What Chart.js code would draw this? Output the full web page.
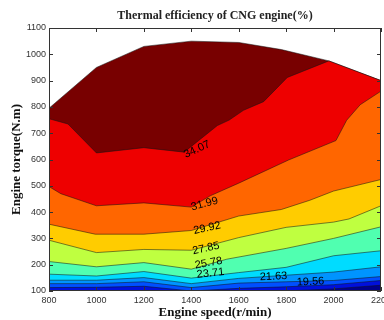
<!DOCTYPE html>
<html lang="en">
<head>
<meta charset="utf-8">
<title>Thermal efficiency of CNG engine</title>
<script src="https://cdn.jsdelivr.net/npm/chart.js@4"></script>
<style>
  html, body { margin: 0; padding: 0; background: #fff; }
</style>
</head>
<body>
<canvas id="contourChart" width="384" height="320"></canvas>
<script>
// contour boundaries as [engine speed r/min, torque N.m]
var maxTorque = [[800, 795], [1000, 950], [1200, 1030], [1400, 1050], [1600, 1045], [1780, 1018], [1980, 975], [2200, 900]];
var eff3407 = [[800, 755], [880, 735], [1000, 625], [1200, 645], [1370, 628], [1510, 729], [1560, 750], [1620, 787], [1705, 820], [1805, 912], [1980, 975], [2200, 900]];
var eff3199 = [[800, 497], [850, 470], [1000, 424], [1200, 435], [1400, 419], [1480, 462], [1600, 510], [1810, 598], [2010, 672], [2055, 749], [2112, 808], [2200, 860]];
var eff2992 = [[800, 354], [995, 316], [1200, 316], [1400, 330], [1600, 385], [1780, 410], [1900, 445], [2000, 480], [2200, 524]];
var eff2785 = [[800, 293], [1000, 246], [1200, 258], [1400, 255], [1600, 303], [1800, 342], [2000, 362], [2065, 374], [2200, 424]];
var eff2578 = [[800, 212], [1000, 192], [1200, 208], [1400, 183], [1550, 221], [1800, 262], [2000, 300], [2200, 344]];
var eff2371 = [[800, 164], [1000, 157], [1200, 174], [1400, 149], [1600, 170], [1800, 190], [2000, 234], [2200, 253]];
var eff2163 = [[800, 141], [1000, 141], [1200, 151], [1400, 128], [1600, 148], [1800, 160], [2000, 172], [2200, 192]];
var eff1956 = [[800, 128], [1000, 128], [1200, 135], [1400, 113], [1600, 130], [1800, 135], [2000, 140], [2200, 155]];
var eff1749 = [[800, 113], [1000, 114], [1200, 118], [1400, 100], [1600, 110], [1800, 116], [2000, 124], [2200, 140]];
var eff1542 = [[1740, 98], [2000, 108], [2200, 122]];

// lowest boundary first, band colour = colour just below each boundary
var boundaries = [eff1542, eff1749, eff1956, eff2163, eff2371, eff2578, eff2785, eff2992, eff3199, eff3407, maxTorque];
var bandColors = ['#00008c', '#0010dc', '#0050ff', '#0094ff', '#00dcff', '#50ffb0', '#bfff40', '#ffcc00', '#ff6600', '#ee0000', '#780000'];

// contour labels: text, speed, torque, angle (deg)
var labelText = ['34.07', '31.99', '29.92', '27.85', '25.78', '23.71', '21.63', '19.56'];
var labelSpeed = [1424, 1456, 1467, 1462, 1473, 1481, 1747, 1903];
var labelTorque = [638, 431, 339, 262, 206, 167, 155, 135];
var labelAngle = [-25, -15, -12, -12, -10, -6, -3, -3];

var datasets = boundaries.map(function (pts, i) {
    return {
        data: pts,
        fill: 'start',
        backgroundColor: bandColors[i],
        borderColor: 'rgba(20,20,20,0.75)',
        borderWidth: 0.7,
        pointRadius: 0,
        tension: 0
    };
});

var extras = {
    id: 'extras',
    afterDatasetsDraw: function (chart) {
        var ctx = chart.ctx, xs = chart.scales.x, ys = chart.scales.y;
        ctx.save();
        ctx.font = '11px "Liberation Sans", Arial, sans-serif';
        ctx.fillStyle = '#000';
        ctx.textAlign = 'center';
        ctx.textBaseline = 'middle';
        for (var i = 0; i < labelText.length; i++) {
            ctx.save();
            ctx.translate(xs.getPixelForValue(labelSpeed[i]), ys.getPixelForValue(labelTorque[i]));
            ctx.rotate(labelAngle[i] * Math.PI / 180);
            ctx.fillText(labelText[i], 0, 0);
            ctx.restore();
        }
        ctx.restore();
    },
    afterDraw: function (chart) {
        var ctx = chart.ctx, a = chart.chartArea, xs = chart.scales.x, ys = chart.scales.y;
        ctx.save();
        ctx.strokeStyle = '#333';
        ctx.lineWidth = 1;
        ctx.strokeRect(a.left + 0.5, a.top + 0.5, a.right - a.left - 1, a.bottom - a.top - 1);
        ctx.beginPath();
        xs.ticks.forEach(function (t) {
            var px = Math.round(xs.getPixelForValue(t.value)) + 0.5;
            ctx.moveTo(px, a.bottom); ctx.lineTo(px, a.bottom - 4);
            ctx.moveTo(px, a.top); ctx.lineTo(px, a.top + 4);
        });
        ys.ticks.forEach(function (t) {
            var py = Math.round(ys.getPixelForValue(t.value)) + 0.5;
            ctx.moveTo(a.left, py); ctx.lineTo(a.left + 4, py);
            ctx.moveTo(a.right, py); ctx.lineTo(a.right - 4, py);
        });
        ctx.stroke();
        // title over the plot area
        ctx.font = 'bold 12px "Liberation Serif", "Times New Roman", serif';
        ctx.fillStyle = '#222';
        ctx.textAlign = 'center';
        ctx.textBaseline = 'middle';
        ctx.fillText('Thermal efficiency of CNG engine(%)', (a.left + a.right) / 2, 16);
        ctx.restore();
    }
};

function plainNumber(v) { return String(v); }

var chart = new Chart(document.getElementById('contourChart'), {
    type: 'line',
    data: { datasets: datasets },
    options: {
        responsive: false,
        animation: false,
        layout: { padding: { top: 28, right: 3, left: 0, bottom: 0 } },
        plugins: { legend: { display: false }, tooltip: { enabled: false }, title: { display: false } },
        scales: {
            x: {
                type: 'linear',
                min: 800, max: 2200,
                grid: { display: false, drawTicks: false },
                border: { display: false },
                ticks: { stepSize: 200, padding: 4, maxRotation: 0, color: '#333', callback: plainNumber, font: { family: '"Liberation Sans", Arial', size: 9 } },
                title: { display: true, text: 'Engine speed(r/min)', color: '#111', padding: { top: 0, bottom: 0 }, font: { family: '"Liberation Serif", "Times New Roman", serif', size: 13, weight: 'bold' } },
                afterFit: function (s) { s.height = 29; s.paddingLeft = 0; s.paddingRight = 0; }
            },
            y: {
                min: 100, max: 1100,
                grid: { display: false, drawTicks: false },
                border: { display: false },
                ticks: { stepSize: 100, padding: 3, color: '#333', callback: plainNumber, font: { family: '"Liberation Sans", Arial', size: 9 } },
                title: { display: true, text: 'Engine torque(N.m)', color: '#111', padding: { top: 9, bottom: 0 }, font: { family: '"Liberation Serif", "Times New Roman", serif', size: 13, weight: 'bold' } },
                afterFit: function (s) { s.width = 49; }
            }
        }
    },
    plugins: [extras]
});
</script>
</body>
</html>
